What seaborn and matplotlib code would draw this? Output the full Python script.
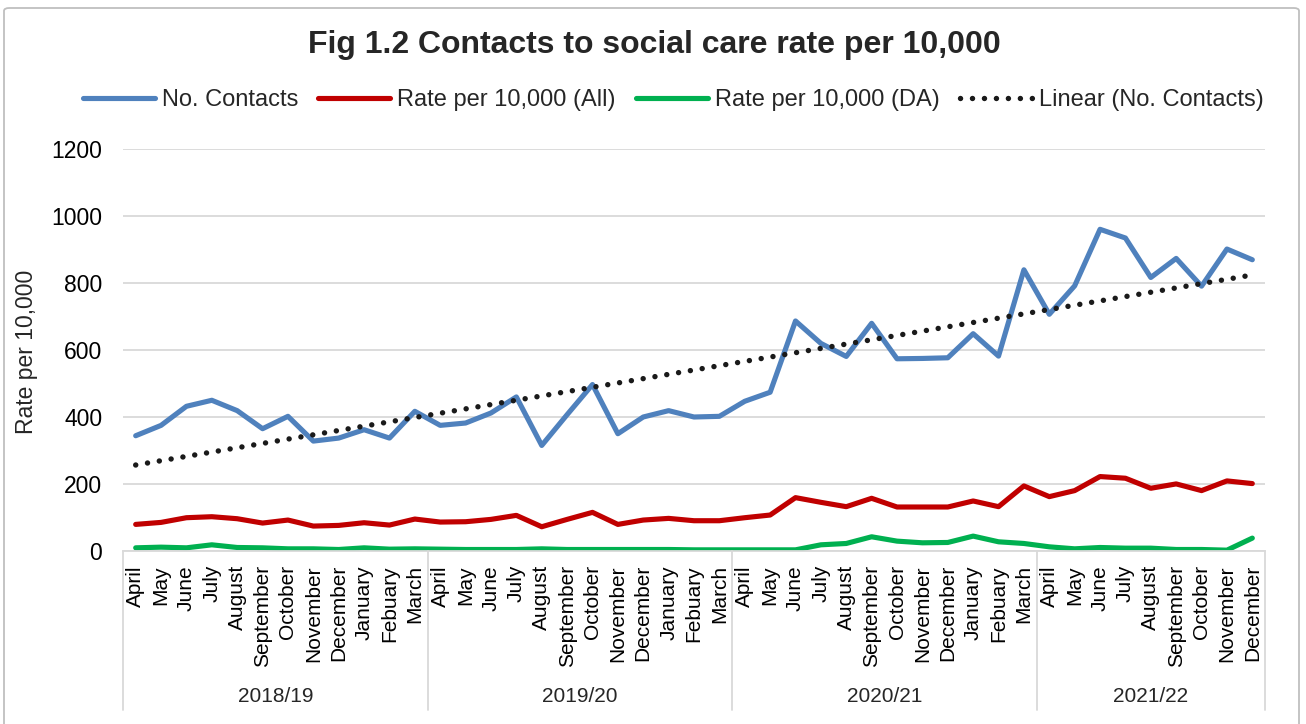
import numpy as np
import pandas as pd
import seaborn as sns
import matplotlib.pyplot as plt
from matplotlib.patches import FancyBboxPatch
from matplotlib.transforms import blended_transform_factory

# ---- data -------------------------------------------------------------
months_full = ["April", "May", "June", "July", "August", "September", "October",
               "November", "December", "January", "Febuary", "March"]
years = ["2018/19", "2019/20", "2020/21", "2021/22"]
months_per_year = [12, 12, 12, 9]

contacts = [343, 374, 431, 449, 418, 364, 401, 327, 336, 361, 336, 416,
            374, 381, 411, 459, 314, 406, 496, 349, 399, 418, 399, 401,
            446, 473, 686, 619, 580, 679, 573, 574, 576, 648, 581, 839,
            706, 791, 960, 934, 816, 873, 790, 901, 869]

rate_all = [78, 84, 98, 101, 95, 82, 91, 73, 75, 83, 76, 94,
            85, 86, 93, 105, 71, 93, 114, 78, 91, 96, 89, 89,
            98, 106, 158, 144, 131, 156, 130, 130, 130, 148, 131, 193,
            161, 179, 221, 216, 186, 199, 179, 208, 200]

rate_da = [8, 10, 8, 17, 9, 8, 5, 5, 3, 8, 4, 5,
           4, 3, 3, 3, 5, 3, 3, 3, 3, 3, 2, 2,
           2, 2, 2, 17, 21, 41, 28, 23, 24, 43, 26, 21,
           11, 5, 9, 7, 7, 3, 3, 1, 37]

month_labels = []
for n in months_per_year:
    month_labels += months_full[:n]
idx = np.arange(len(month_labels))

series_names = ["No. Contacts", "Rate per 10,000 (All)", "Rate per 10,000 (DA)"]
colors = {"No. Contacts": "#4F81BD",
          "Rate per 10,000 (All)": "#C00000",
          "Rate per 10,000 (DA)": "#00B050"}

df = pd.DataFrame({
    "idx": np.tile(idx, 3),
    "value": contacts + rate_all + rate_da,
    "series": np.repeat(series_names, len(idx)),
})

# ---- style ------------------------------------------------------------
sns.set_theme(style="white")
plt.rcParams["font.family"] = ["Liberation Sans", "DejaVu Sans"]

W, H = 1306, 724
fig = plt.figure(figsize=(W / 100, H / 100), dpi=100)
left, right, top, bottom = 123, 1265, 149, 550.5
ax = fig.add_axes([left / W, 1 - bottom / H, (right - left) / W, (bottom - top) / H])

# chart frame
fig.patches.append(FancyBboxPatch((4 / W, -0.05), (1299 - 4) / W, 1.05 - 8 / H,
                                  boxstyle="round,pad=0,rounding_size=0.004",
                                  transform=fig.transFigure, fill=False,
                                  edgecolor="#BFBFBF", linewidth=1.3, zorder=0))

# ---- series -----------------------------------------------------------
for name in series_names:
    sub = df[df["series"] == name]
    sns.lineplot(data=sub, x="idx", y="value", ax=ax, color=colors[name],
                 linewidth=3.7, label=name, legend=False,
                 solid_joinstyle="round", solid_capstyle="round")

# linear trend of contacts
sns.regplot(x=idx, y=np.array(contacts, dtype=float), ax=ax, scatter=False, ci=None,
            truncate=True, label="Linear (No. Contacts)",
            line_kws=dict(color="#1A1A1A", linewidth=3.9, linestyle=(0, (0.01, 2.2)),
                          dash_capstyle="round"))

# ---- axes -------------------------------------------------------------
ax.set_xlim(-0.5, len(idx) - 0.5)
ax.set_ylim(0, 1200)
ax.set_yticks(range(0, 1201, 200))
ax.yaxis.grid(True, color="#D9D9D9", linewidth=1.3)
ax.xaxis.grid(False)
ax.set_axisbelow(True)
for s in ["top", "right", "left"]:
    ax.spines[s].set_visible(False)
ax.spines["bottom"].set_color("#D9D9D9")
ax.spines["bottom"].set_linewidth(1.3)

ax.set_xticks(idx)
ax.set_xticklabels(month_labels, rotation=90, fontsize=15, color="#000000")
ax.tick_params(axis="x", length=0, pad=10.5)
ax.tick_params(axis="y", length=0, pad=15, labelsize=16.5, labelcolor="#000000")
ax.set_xlabel("")
ax.set_ylabel("")

# year groups under the month labels
trans = blended_transform_factory(ax.transData, ax.transAxes)
sep_bottom = (bottom - 710) / (bottom - top)
starts = np.cumsum([0] + months_per_year)
for b in starts:
    ax.plot([b - 0.5, b - 0.5], [0, sep_bottom], transform=trans, clip_on=False,
            color="#D9D9D9", linewidth=1.3)
year_y = (bottom - 697) / (bottom - top)
for i, yr in enumerate(years):
    cx = (starts[i] + starts[i + 1] - 1) / 2
    ax.text(cx, year_y, yr, transform=trans, ha="center", va="center", fontsize=15)

# ---- titles and legend --------------------------------------------------
fig.text(27 / W, 1 - 351.5 / H, "Rate per 10,000", rotation=90, ha="center",
         va="center", fontsize=16.5)
fig.text(654.5 / W, 1 - 45 / H, "Fig 1.2 Contacts to social care rate per 10,000",
         ha="center", va="center", fontsize=23, fontweight="bold")

handles, labels = ax.get_legend_handles_labels()
fig.legend(handles, labels, loc="center", bbox_to_anchor=(673 / W, 1 - 100 / H),
           ncol=4, frameon=False, fontsize=17, handlelength=3.05,
           handletextpad=0.3, columnspacing=0.85, borderaxespad=0)

fig.savefig("out.png", dpi=100)
